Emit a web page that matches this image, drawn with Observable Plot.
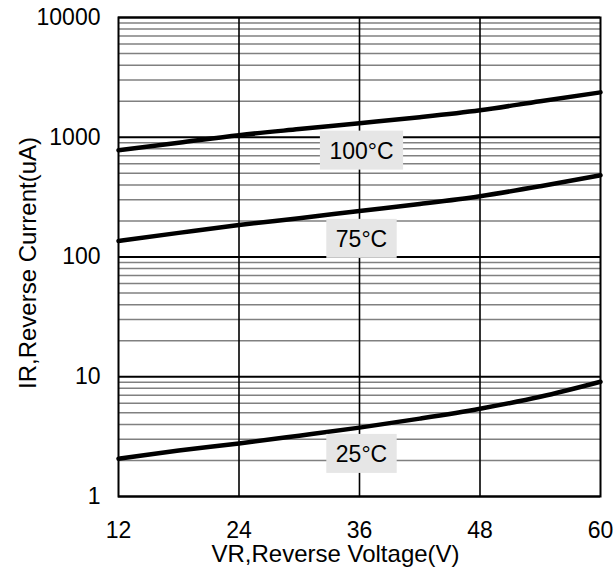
<!DOCTYPE html>
<html>
<head>
<meta charset="utf-8">
<script src="https://cdn.jsdelivr.net/npm/d3@7"></script>
<script src="https://cdn.jsdelivr.net/npm/@observablehq/plot@0.6"></script>
<style>
  body { margin: 0; background: white; }
  #chart { width: 615px; height: 571px; }
</style>
</head>
<body>
<div id="chart"></div>
<script>
// Reverse voltage (V)
const volts = [12, 18, 24, 30, 36, 42, 48, 54, 60];
// Reverse current (uA) per temperature
const ir100 = [780, 900, 1040, 1170, 1310, 1470, 1680, 2000, 2370];
const ir75  = [136, 159, 185, 211, 242, 277, 322, 390, 482];
const ir25  = [2.07, 2.42, 2.77, 3.22, 3.76, 4.47, 5.41, 6.8, 9.08];

const seriesNames = ["100°C", "75°C", "25°C"];
const seriesValues = [ir100, ir75, ir25];
// label anchor positions (V, uA)
const labelX = [36, 36, 36];
const labelY = [764, 140, 2.24];

const xTicks = [12, 24, 36, 48, 60];
const yTicks = [1, 10, 100, 1000, 10000];

const rows = seriesNames.flatMap((name, i) =>
  volts.map((v, j) => ({series: name, v, ir: seriesValues[i][j]})));
const labels = seriesNames.map((name, i) => ({name, v: labelX[i], ir: labelY[i]}));
const minorY = yTicks.slice(0, -1).flatMap(d => [2,3,4,5,6,7,8,9].map(k => k * d));
const innerX = xTicks.slice(1, -1);

const font = "Liberation Sans, Arial, Helvetica, sans-serif";

const plot = Plot.plot({
  width: 615,
  height: 571,
  marginLeft: 118,
  marginRight: 15,
  marginTop: 17,
  marginBottom: 75,
  style: {fontFamily: font, fontSize: "23px", background: "white", color: "black"},
  x: {domain: [12, 60]},
  y: {type: "log", domain: [1, 10000]},
  marks: [
    Plot.ruleY(minorY, {stroke: "#808080", strokeWidth: 1.5}),
    Plot.ruleY(yTicks, {stroke: "black", strokeWidth: 2}),
    Plot.ruleX(innerX, {stroke: "black", strokeWidth: 1.6}),
    Plot.line(rows, {x: "v", y: "ir", z: "series", stroke: "black", strokeWidth: 4.5, curve: "monotone-x"}),
    Plot.text(labels, {x: "v", y: "ir", text: "name", dx: 2, fill: "black", fontSize: 23, lineAnchor: "middle"}),
    Plot.axisX({ticks: xTicks, tickSize: 0, tickPadding: 25, tickFormat: d => String(d), label: null, fontSize: 23}),
    Plot.axisY({ticks: yTicks, tickSize: 0, tickPadding: 18, tickFormat: d => String(d), label: null, fontSize: 23}),
    Plot.text(["VR,Reverse Voltage(V)"], {frameAnchor: "bottom", dx: -24, dy: 58, textAnchor: "middle", fontSize: 24, lineAnchor: "middle", fill: "black"}),
    Plot.text(["IR,Reverse Current(uA)"], {frameAnchor: "left", dx: -90, dy: 6, rotate: -90, textAnchor: "middle", fontSize: 24, lineAnchor: "middle", fill: "black"}),
    Plot.frame({stroke: "black", strokeWidth: 2})
  ]
});

document.getElementById("chart").appendChild(plot);

// grey boxes behind the temperature labels
d3.select(plot).selectAll("text")
  .filter(function() { return seriesNames.includes(this.textContent); })
  .each(function() {
    const bb = this.getBBox();
    const padX = 9.5;
    const rect = document.createElementNS("http://www.w3.org/2000/svg", "rect");
    rect.setAttribute("x", bb.x - padX);
    rect.setAttribute("y", bb.y + bb.height / 2 - 20);
    rect.setAttribute("width", bb.width + 2 * padX);
    rect.setAttribute("height", 39);
    rect.setAttribute("fill", "#e6e6e6");
    const t = this.getAttribute("transform");
    if (t) rect.setAttribute("transform", t);
    this.parentNode.insertBefore(rect, this);
  });
</script>
</body>
</html>
